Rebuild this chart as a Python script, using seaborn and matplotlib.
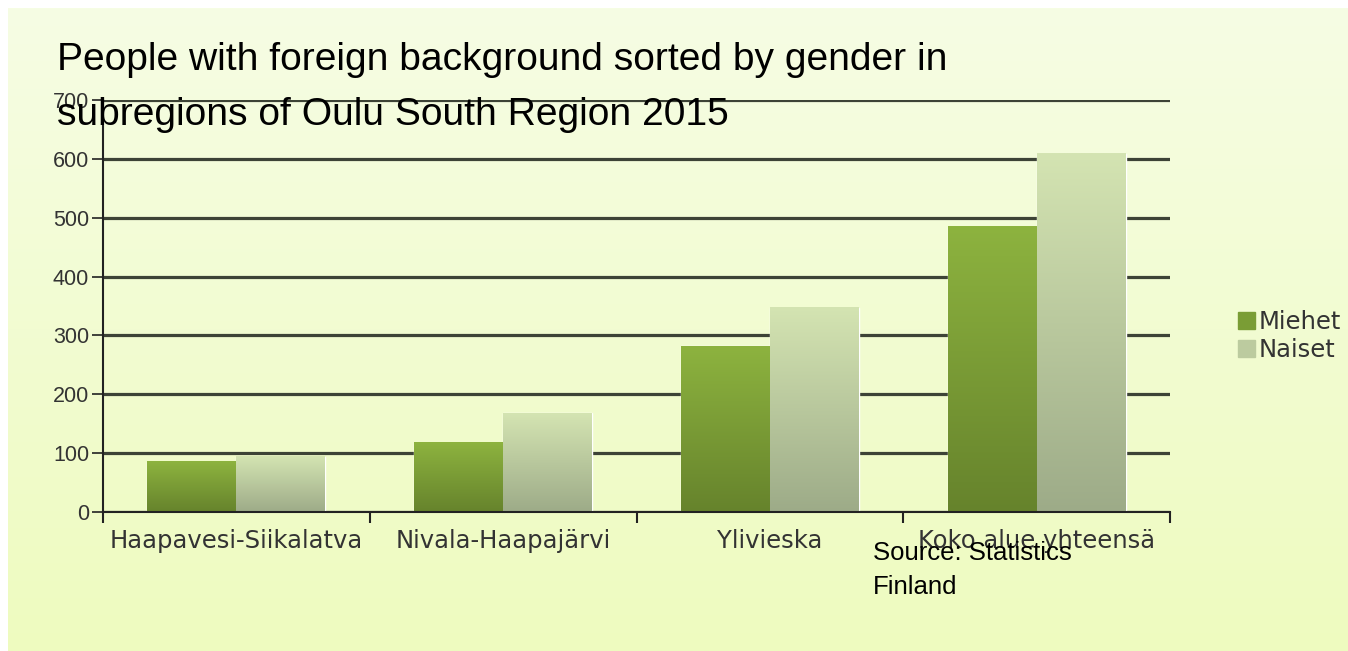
import numpy as np
import pandas as pd
import matplotlib.pyplot as plt
import seaborn as sns
from matplotlib.colors import LinearSegmentedColormap

# data
regions = ["Haapavesi-Siikalatva", "Nivala-Haapajärvi", "Ylivieska", "Koko alue yhteensä"]
miehet = [85, 118, 282, 485]
naiset = [94, 168, 347, 609]
genders = ["Miehet", "Naiset"]
yticks = [0, 100, 200, 300, 400, 500, 600, 700]

df = pd.DataFrame({
    "Region": regions * 2,
    "Gender": ["Miehet"] * len(regions) + ["Naiset"] * len(regions),
    "Count": miehet + naiset,
})

sns.set_theme(style="white")
plt.rcParams['font.family'] = ['Liberation Sans', 'DejaVu Sans']

fig = plt.figure(figsize=(13.48, 6.51), dpi=100)
fig.patch.set_facecolor("white")

# light yellow-green gradient background
bg = fig.add_axes([8 / 1348, 0, 1 - 8 / 1348, 1 - 8 / 651])
bg_grad = np.linspace(0, 1, 256).reshape(-1, 1)
bg_cmap = LinearSegmentedColormap.from_list("bg", ["#f6fde4", "#eefbbf"])
bg.imshow(bg_grad, cmap=bg_cmap, aspect="auto", extent=[0, 1, 0, 1])
bg.set_axis_off()

ax = fig.add_axes([103 / 1348, 1 - 512 / 651, (1170 - 103) / 1348, 412 / 651])
ax.set_facecolor("none")

pal = {"Miehet": "#7a9d35", "Naiset": "#bccb9f"}
sns.barplot(data=df, x="Region", y="Count", hue="Gender", palette=pal,
            width=0.667, gap=0, saturation=1, legend=False, ax=ax)

# vertical gradient on bars
grad_colors = {"Miehet": ["#66832c", "#8db33f"], "Naiset": ["#9dab88", "#d4e4b2"]}
bar_grad = np.linspace(0, 1, 256).reshape(-1, 1)
for cont, g in zip(ax.containers, genders):
    cmap = LinearSegmentedColormap.from_list(g, grad_colors[g])
    for p in cont:
        x0, w, h = p.get_x(), p.get_width(), p.get_height()
        ax.imshow(bar_grad, cmap=cmap, origin="lower", aspect="auto",
                  extent=[x0, x0 + w, 0, h], zorder=2)

ax.set_xlim(-0.5, len(regions) - 0.5)
ax.set_ylim(0, 700)
ax.set_xlabel("")
ax.set_ylabel("")

# gridlines
ax.set_yticks(yticks)
ax.yaxis.grid(True, color="#3d4336", linewidth=2.3)
ax.set_axisbelow(True)

for side in ["top", "right"]:
    ax.spines[side].set_visible(False)
for side in ["left", "bottom"]:
    ax.spines[side].set_color("#222222")
    ax.spines[side].set_linewidth(1.5)

ax.tick_params(axis="y", which="major", left=True, length=8, width=1.2,
               color="#222222", labelsize=15.5, labelcolor="#333333", pad=2)
ax.tick_params(axis="x", which="major", bottom=False, length=0, pad=12)
ax.set_xticks(range(len(regions)))
ax.set_xticklabels(regions, fontsize=17.5, color="#333333", family="DejaVu Sans")
ax.set_xticks(np.arange(-0.5, len(regions), 1), minor=True)
ax.tick_params(axis="x", which="minor", bottom=True, length=8, width=1.5, color="#222222")

# legend
handles = [plt.Rectangle((0, 0), 1, 1, color=pal[g]) for g in genders]
fig.legend(handles, genders, loc="center left", bbox_to_anchor=(1238 / 1348, 1 - 336 / 651),
           frameon=False, handlelength=0.7, handleheight=0.7, borderpad=0, borderaxespad=0,
           handletextpad=0.15, labelspacing=0.15,
           prop={"family": "DejaVu Sans", "size": 17.5}, labelcolor="#333333")

fig.text(57 / 1348, 1 - 42 / 651,
         "People with foreign background sorted by gender in\nsubregions of Oulu South Region 2015",
         fontsize=28.1, color="black", va="top", ha="left", linespacing=1.68)
fig.text(873 / 1348, 1 - 541 / 651, "Source: Statistics\nFinland",
         fontsize=18.5, color="black", va="top", ha="left", linespacing=1.5)

fig.savefig("out.png", dpi=100)
